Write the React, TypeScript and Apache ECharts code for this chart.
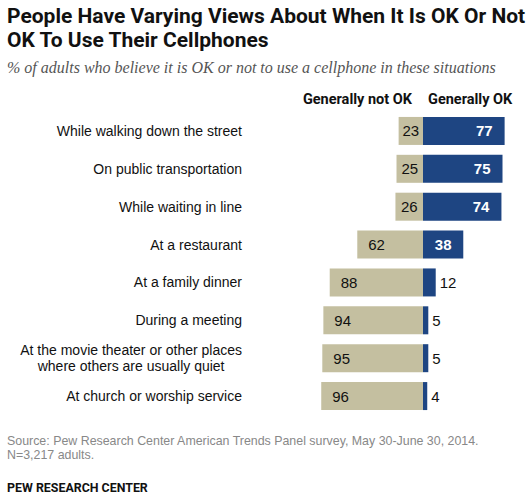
import { useEffect, useRef } from 'react'
import * as echarts from 'echarts'

const situations = [
  'While walking down the street',
  'On public transportation',
  'While waiting in line',
  'At a restaurant',
  'At a family dinner',
  'During a meeting',
  'At the movie theater or other places\nwhere others are usually quiet',
  'At church or worship service',
]
const notOk = [23, 25, 26, 62, 88, 94, 95, 96]
const ok = [77, 75, 74, 38, 12, 5, 5, 4]

const TAN = '#c4bfa0'
const NAVY = '#1e4582'
const FONT = '"Liberation Sans", Arial, sans-serif'

function App() {
  const chartRef = useRef<HTMLDivElement>(null)

  useEffect(() => {
    if (!chartRef.current) return
    const chart = echarts.init(chartRef.current, null, { renderer: 'svg' })

    // label placement depends on bar length
    const notOkData = notOk.map((v) => ({
      value: -v,
      label: v >= 50
        ? { position: 'insideLeft' as const, distance: 11 }
        : { position: 'inside' as const },
    }))
    const okData = ok.map((v) => ({
      value: v,
      label: v >= 50
        ? { position: 'insideRight' as const, distance: 12, color: '#fff', fontWeight: 'bold' as const }
        : v >= 20
          ? { position: 'inside' as const, color: '#fff', fontWeight: 'bold' as const }
          : { position: 'right' as const, distance: 4, color: '#111' },
    }))

    const option: echarts.EChartsOption = {
      animation: false,
      backgroundColor: '#fff',
      grid: { left: 317, width: 212, top: 112, height: 303 },
      xAxis: {
        type: 'value',
        min: -100,
        max: 100,
        show: false,
      },
      yAxis: {
        type: 'category',
        inverse: true,
        data: situations,
        position: 'left',
        axisLine: { show: false, onZero: false },
        axisTick: { show: false },
        splitLine: { show: false },
        axisLabel: {
          margin: 75,
          color: '#111',
          fontFamily: FONT,
          fontSize: 14,
          formatter: (val: string) => {
            if (!val.includes('\n')) return val
            return val.split('\n').map((l) => `{c|${l}}`).join('\n')
          },
          rich: {
            c: { align: 'center', fontFamily: FONT, fontSize: 14, color: '#111', lineHeight: 16 },
          },
        },
      },
      series: [
        {
          name: 'Generally not OK',
          type: 'bar',
          data: notOkData,
          barWidth: 28,
          barGap: '-100%',
          itemStyle: { color: TAN },
          label: {
            show: true,
            formatter: (p: any) => String(Math.abs(p.value)),
            color: '#111',
            fontFamily: FONT,
            fontSize: 15,
          },
        },
        {
          name: 'Generally OK',
          type: 'bar',
          data: okData,
          barWidth: 28,
          barGap: '-100%',
          itemStyle: { color: NAVY },
          label: {
            show: true,
            fontFamily: FONT,
            fontSize: 15,
          },
        },
      ],
      graphic: [
        {
          type: 'text',
          left: 7,
          top: 4,
          style: {
            text: 'People Have Varying Views About When It Is OK Or Not\nOK To Use Their Cellphones',
            font: 'bold 21px Roboto, sans-serif',
            lineHeight: 24,
            fill: '#111',
          },
        },
        {
          type: 'text',
          left: 7,
          top: 59,
          style: {
            text: '% of adults who believe it is OK or not to use a cellphone in these situations',
            font: 'italic 16px "Liberation Serif", serif',
            fill: '#555',
          },
        },
        {
          type: 'text',
          right: 117,
          top: 92,
          style: { text: 'Generally not OK', font: 'bold 14.5px Roboto, sans-serif', fill: '#111' },
        },
        {
          type: 'text',
          left: 428,
          top: 92,
          style: { text: 'Generally OK', font: 'bold 14.5px Roboto, sans-serif', fill: '#111' },
        },
        {
          type: 'text',
          left: 7,
          top: 434,
          style: {
            text: 'Source: Pew Research Center American Trends Panel survey, May 30-June 30, 2014.\nN=3,217 adults.',
            font: `12.4px ${FONT}`,
            lineHeight: 14,
            fill: '#888',
          },
        },
        {
          type: 'text',
          left: 7,
          top: 481,
          style: { text: 'PEW RESEARCH CENTER', font: 'bold 12.4px Roboto, sans-serif', fill: '#111' },
        },
      ],
    }

    chart.setOption(option)
    return () => chart.dispose()
  }, [])

  return (
    <div
      ref={chartRef}
      style={{ position: 'fixed', left: 0, top: 0, width: 529, height: 499 }}
    />
  )
}

export default App
